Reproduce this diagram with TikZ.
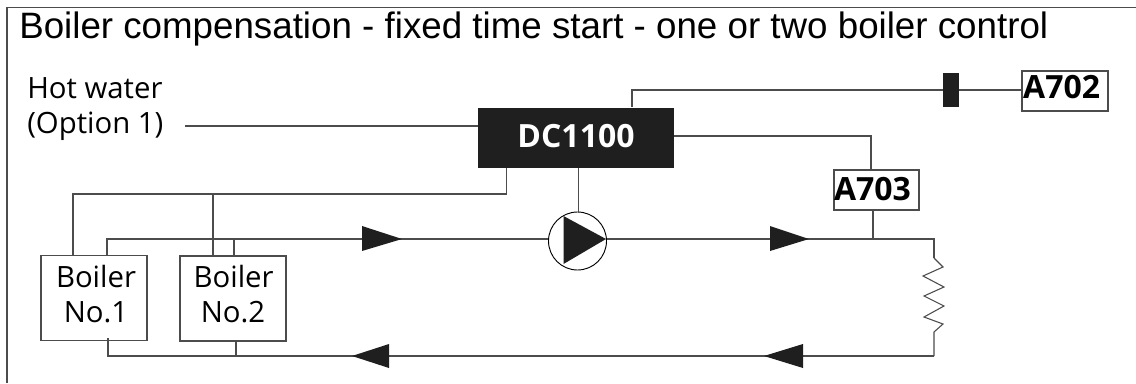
\documentclass[tikz,border=0pt]{standalone}
\usepackage{fontspec}
\setmainfont{Open Sans}
\newfontfamily\titlefont{Liberation Sans}
\begin{document}
\begin{tikzpicture}[x=0.75pt,y=-0.75pt,
  wire/.style={draw=black!70,line width=0.95pt},
  thinbox/.style={draw=black!70,line width=0.95pt,fill=white,inner sep=0pt},
  lbl/.style={font=\fontsize{22}{26.3}\selectfont,align=center,inner sep=0pt,text=black},
  tagbox/.style={thinbox,font=\bfseries\fontsize{24}{26}\selectfont,minimum height=30pt},
  flow/.style={fill=black!88,draw=none}]
\useasboundingbox (0,0) rectangle (1136,383);
\fill[white] (0,0) rectangle (1136,383);
\coordinate (fl) at (7,383);
\coordinate (ftl) at (7,7.3);
\coordinate (ftr) at (1136,7.3);
\draw[draw=black!70,line width=1.1pt] (fl) -- (ftl) -- (ftr);
\node[anchor=base west,font=\titlefont\fontsize{27.55}{32}\selectfont,inner sep=0pt] (title) at (19,38) {Boiler compensation - fixed time start - one or two boiler control};
\node[lbl,anchor=base west] (hw1) at (27,98) {Hot water};
\node[lbl,anchor=base west] (hw2) at (27,133) {(Option 1)};
\node[fill=black!88,minimum width=147pt,minimum height=45pt,inner sep=0pt,text=white,font=\bfseries\fontsize{24}{26}\selectfont,text depth=2.25pt] (dc) at (576,137.5) {DC1100};
\node[tagbox,minimum width=63.75pt,text depth=2.25pt] (a703) at (876.5,190) {A703\kern6pt};
\node[tagbox,minimum width=64.5pt,text depth=6.75pt] (a702) at (1065,91) {A702\kern5pt};
\node[thinbox,lbl,minimum width=79.5pt,minimum height=63.75pt] (b1) at (94,298) {\raisebox{6.5pt}{\kern3pt Boiler}\\\raisebox{6.5pt}{\kern3pt No.1}};
\node[thinbox,lbl,minimum width=79.5pt,minimum height=63.75pt] (b2) at (233,298.5) {\raisebox{6.5pt}{\kern1pt Boiler}\\\raisebox{6.5pt}{No.2}};
\node[fill=black!88,minimum width=12pt,minimum height=26pt,inner sep=0pt] (plug) at (951,90) {};
\node[circle,draw=black,line width=0.7pt,minimum size=43.5pt,inner sep=0pt,fill=white] (pump) at (577.5,241) {};
\coordinate (hwend) at (185,126);
\coordinate (n1) at (632,90);
\coordinate (n2) at (871,136);
\coordinate (n3) at (506.5,194);
\coordinate (n4) at (73,194);
\coordinate (n5) at (213,194);
\coordinate (s1) at (578.5,212);
\coordinate (p1) at (107,239);
\coordinate (p2) at (234,239);
\coordinate (p3) at (873,239);
\coordinate (p4) at (934,239);
\coordinate (r1) at (934,356);
\coordinate (r2) at (108,356);
\coordinate (r3) at (236,356);
\draw[wire] (hwend) -- (hwend -| dc.west);
\draw[wire] (n1 |- dc.north) -- (n1) -- (plug.west);
\draw[wire] (plug.east) -- (plug.east -| a702.west);
\draw[wire] (n2 -| dc.east) -- (n2) -- (n2 |- a703.north);
\draw[wire] (n3 |- dc.south) -- (n3) -- (n4) -- (n4 |- b1.north);
\draw[wire] (n5) -- (n5 |- b2.north);
\draw[wire] (s1 |- dc.south) -- (s1);
\draw[wire] (p1 |- b1.north) -- (p1) -- (pump.west |- p1);
\draw[wire] (p2) -- (p2 |- b2.north);
\draw[wire] (pump.east |- p4) -- (p4) -- (934,258);
\draw[wire] (p3 |- a703.south) -- (p3);
\draw[wire,line width=0.8pt] (934,258) -- (943,267) -- (923,276) -- (944,287) -- (924,296) -- (944,306) -- (924,317) -- (943,324) -- (934,332) -- (r1);
\draw[wire] (r1) -- (r2) -- (108,338);
\draw[wire] (r3) -- (r3 |- b2.south);
\fill[flow] (362,226) -- (402,239) -- (362,251) -- cycle;
\fill[flow] (770,226) -- (809,239) -- (770,251) -- cycle;
\fill[flow] (389,344) -- (352,356) -- (389,368) -- cycle;
\fill[flow] (803,344) -- (764,356) -- (803,368) -- cycle;
\fill[flow] (563.5,216) -- (606,239) -- (563.5,264) -- cycle;
\end{tikzpicture}
\end{document}
